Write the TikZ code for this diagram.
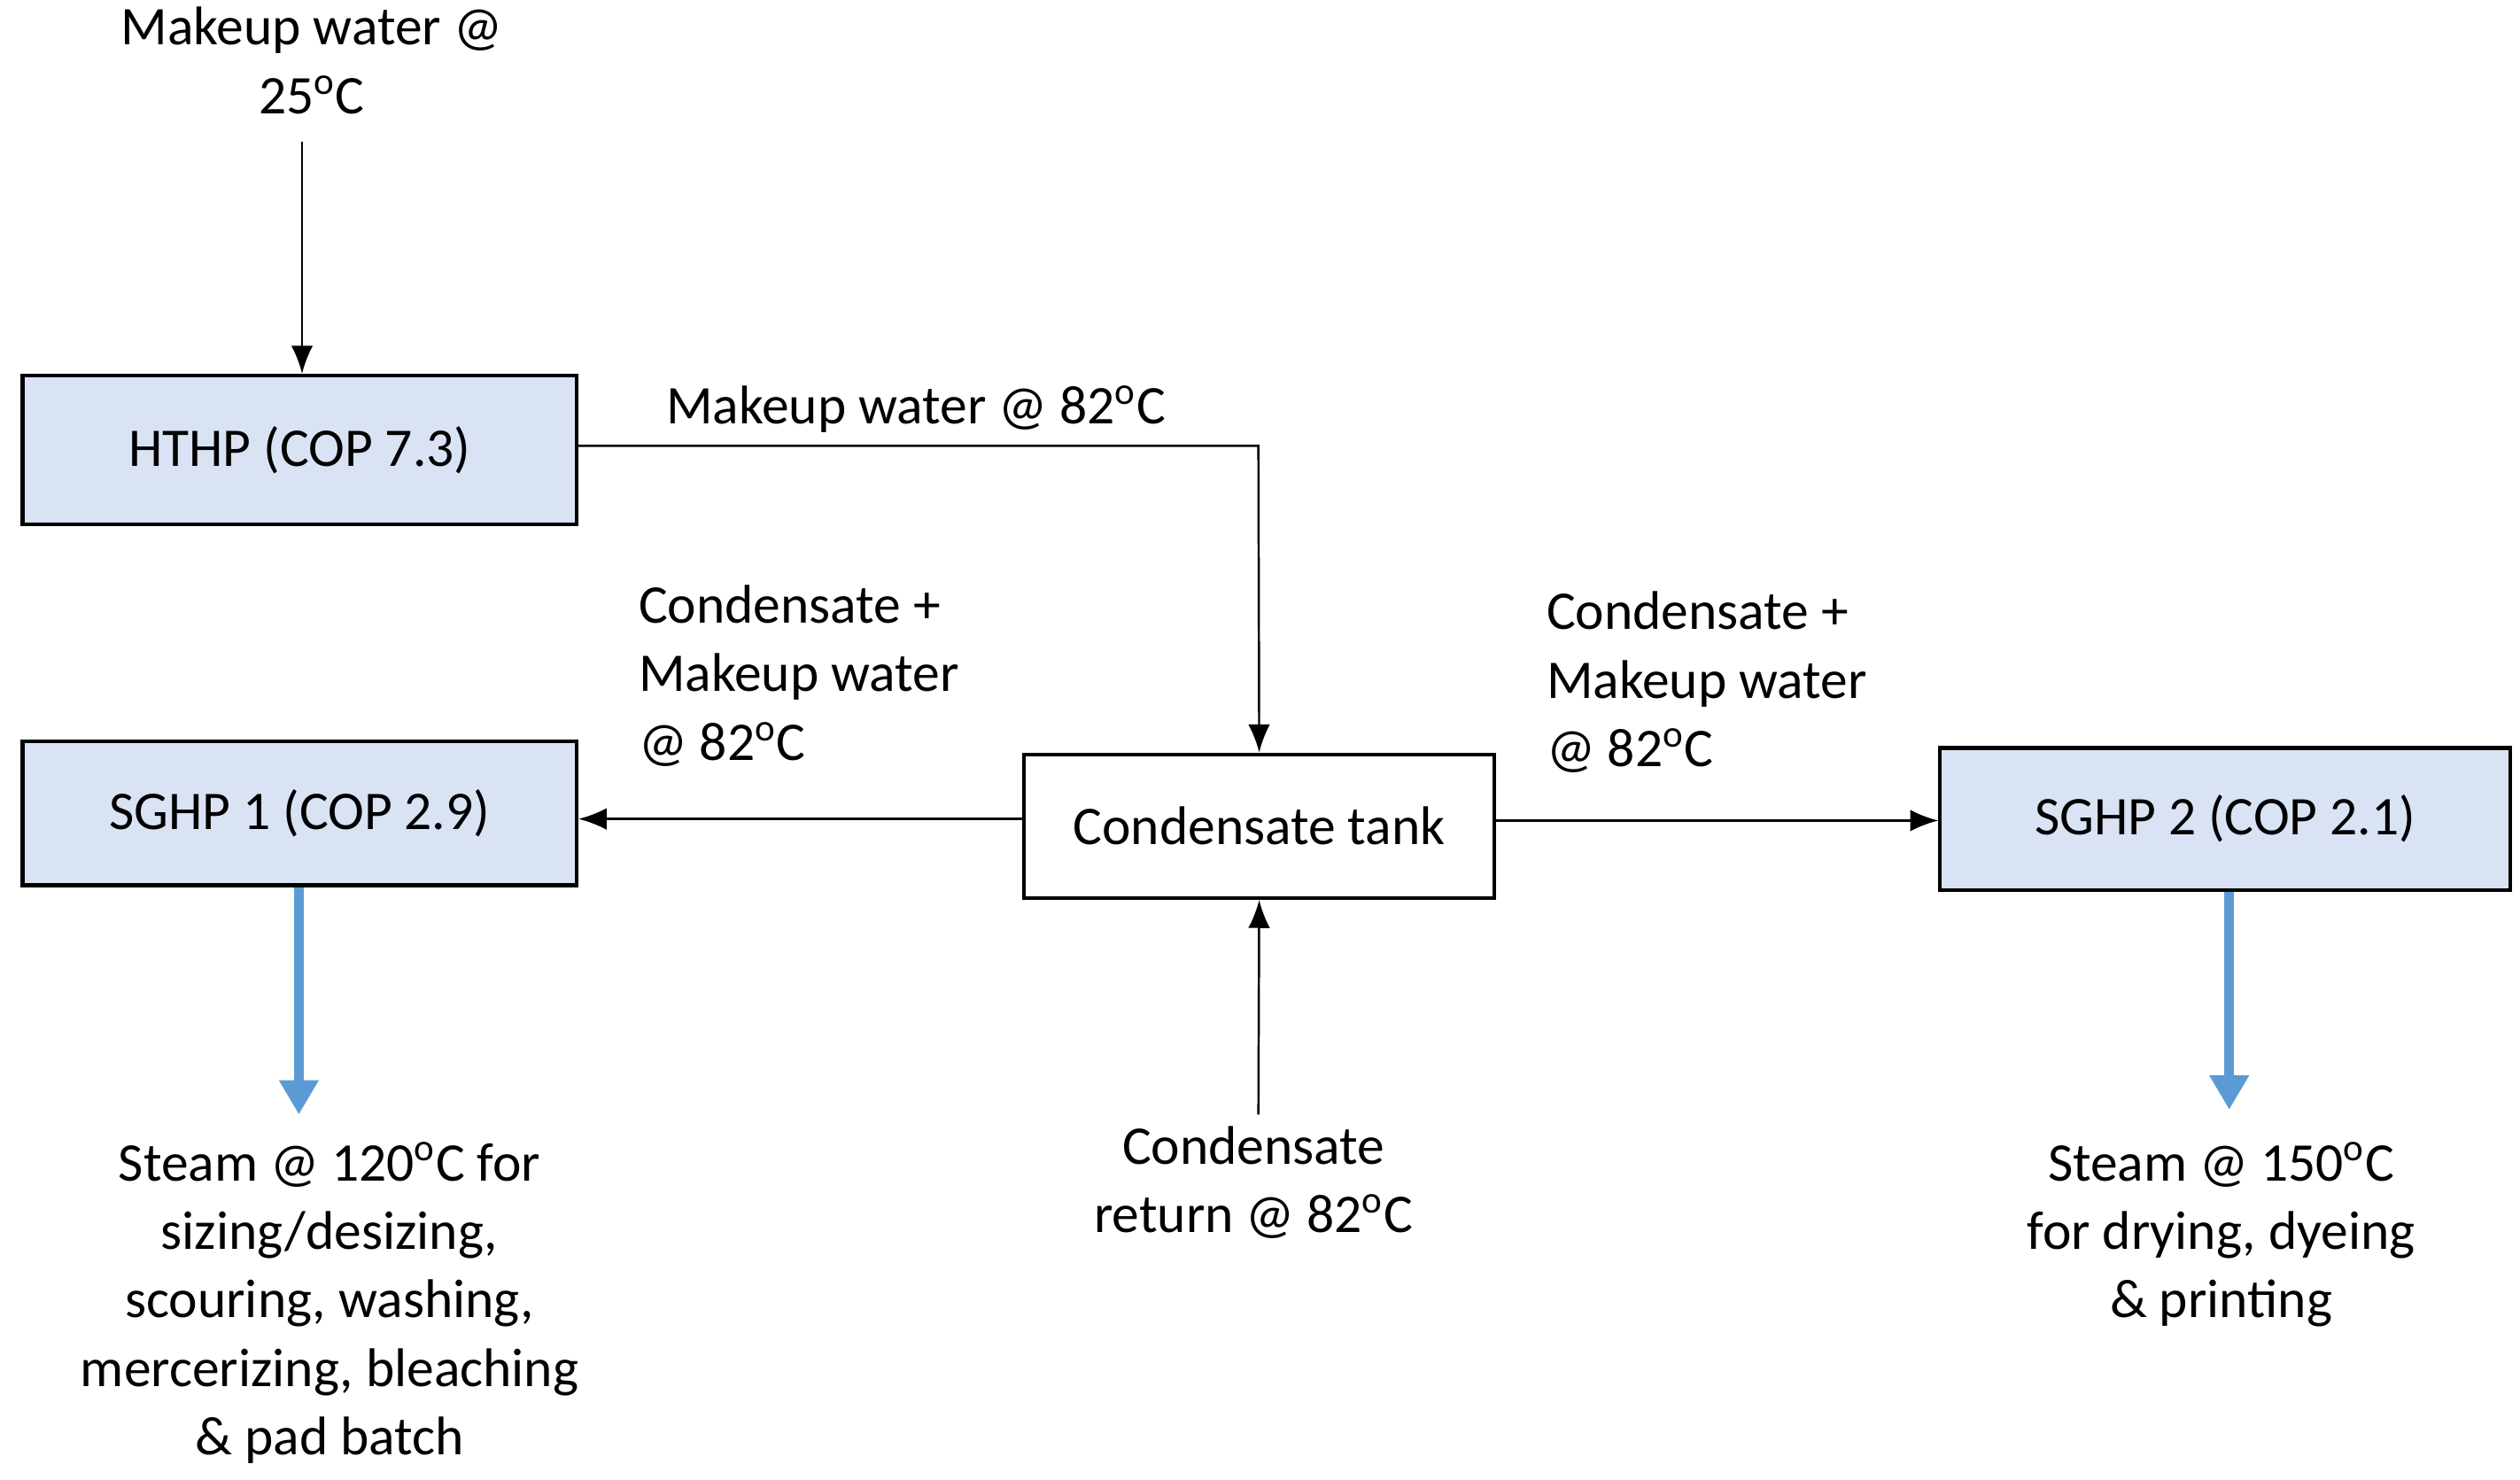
\documentclass[tikz,border=0pt]{standalone}
\usepackage{fontspec}
\setmainfont{Carlito}
\usetikzlibrary{arrows.meta}
\definecolor{boxfill}{RGB}{218,227,243}
\definecolor{steam}{RGB}{91,155,213}
\begin{document}
\begin{tikzpicture}[x=0.018237cm,y=-0.018237cm,
  every node/.style={font=\fontsize{17.5}{22}\selectfont},
  box/.style={draw=black,line width=1.2pt,fill=boxfill,minimum width=343*0.018237cm,minimum height=92*0.018237cm,inner sep=0pt},
  flow/.style={line width=0.7pt,-{Latex[length=9pt,width=7pt]}},
  hot/.style={line width=3pt,steam,-{Triangle[length=11pt,width=12pt]}},
  lbl/.style={align=left,anchor=north west,inner sep=0pt},
  clbl/.style={align=center,anchor=north,inner sep=0pt}]
\useasboundingbox (0,0) rectangle (1560,916);
\node[box] (hthp) at (185.5,278.5) {HTHP (COP 7.3)};
\node[box,minimum height=89*0.018237cm] (sg1) at (185.5,503.5) {SGHP 1 (COP 2.9)};
\node[box,fill=white,minimum width=291*0.018237cm,minimum height=89*0.018237cm] (tank) at (779.5,511.5) {Condensate tank};
\node[box,minimum width=353*0.018237cm,minimum height=88*0.018237cm] (sg2) at (1377.5,507) {SGHP 2 (COP 2.1)};

\node[clbl] (mw25) at (193,4) {Makeup water @\\25\textsuperscript{o}C};
\coordinate (mwtop) at (187,88);
\draw[flow] (mwtop) -- (hthp.north -| mwtop);

\node[anchor=south,inner sep=0pt] (mw82) at (567,268) {Makeup water @ 82\textsuperscript{o}C};
\coordinate (bend) at (779,276);
\draw[flow] (hthp.east |- bend) -- (bend) -- (tank.north);

\node[lbl] (l1) at (395,362) {Condensate +\\Makeup water\\@ 82\textsuperscript{o}C};
\draw[flow] (tank.west |- 0,507) -- (sg1.east |- 0,507);

\node[lbl] (l2) at (957,366) {Condensate +\\Makeup water\\@ 82\textsuperscript{o}C};
\draw[flow] (tank.east |- 0,508) -- (sg2.west |- 0,508);

\coordinate (cret) at (779,690);
\draw[flow] (cret) -- (tank.south);
\node[clbl] (crl) at (776,697) {Condensate\\return @ 82\textsuperscript{o}C};

\coordinate (s1) at (185,690);
\draw[hot] (sg1.south -| s1) -- (s1);
\node[clbl] (st1) at (204,707) {Steam @ 120\textsuperscript{o}C for\\sizing/desizing,\\scouring, washing,\\mercerizing, bleaching\\\& pad batch};

\coordinate (s2) at (1380,687);
\draw[hot] (sg2.south -| s2) -- (s2);
\node[clbl] (st2) at (1375,707) {Steam @ 150\textsuperscript{o}C\\for drying, dyeing\\\& printing};
\end{tikzpicture}
\end{document}
